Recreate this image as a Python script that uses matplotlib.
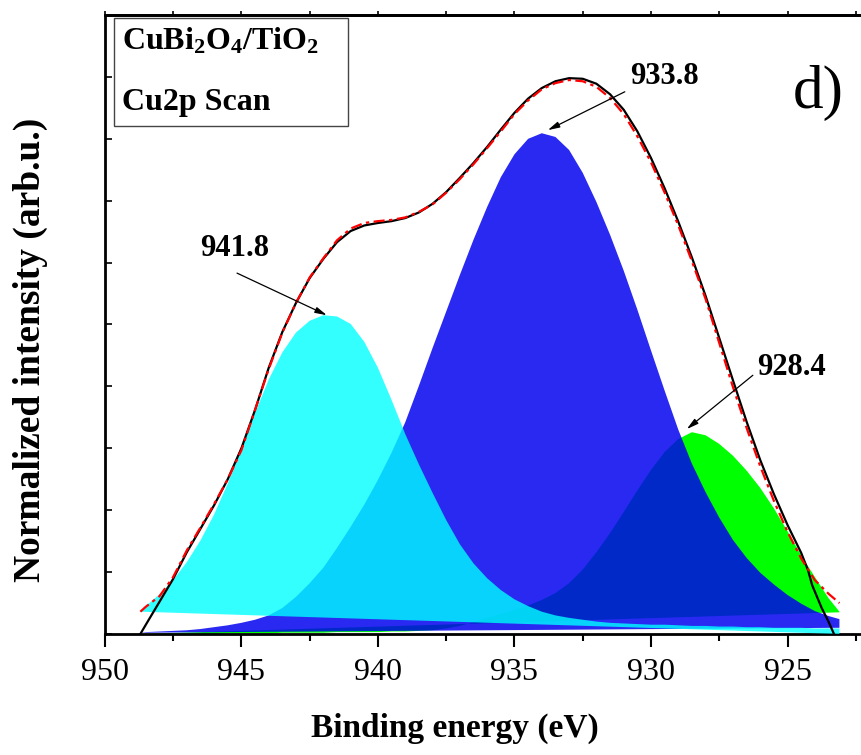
import matplotlib
matplotlib.use('Agg')
import matplotlib.pyplot as plt
from matplotlib.patches import Rectangle
from matplotlib.ticker import MultipleLocator

plt.rcParams['font.family'] = ['Liberation Serif', 'DejaVu Serif']
plt.rcParams['mathtext.fontset'] = 'custom'
plt.rcParams['mathtext.rm'] = 'Liberation Serif:bold'
plt.rcParams['mathtext.it'] = 'Liberation Serif:bold'
plt.rcParams['mathtext.bf'] = 'Liberation Serif:bold'
plt.rcParams['mathtext.default'] = 'rm'

# binding energy grid of the fit (eV)
energy = [948.7, 948.5, 948, 947.5, 947, 946.5, 946, 945.5, 945, 944.5,
          944, 943.5, 943, 942.5, 942, 941.5, 941, 940.5, 940, 939.5,
          939, 938.5, 938, 937.5, 937, 936.5, 936, 935.5, 935, 934.5,
          934, 933.5, 933, 932.5, 932, 931.5, 931, 930.5, 930, 929.5,
          929, 928.5, 928, 927.5, 927, 926.5, 926, 925.5, 925, 924.5,
          924, 923.5, 923.1]
# component curves (normalized intensity)
peak_941 = [0.036, 0.045, 0.064, 0.087, 0.116, 0.151, 0.193, 0.243, 0.299, 0.357,
            0.411, 0.455, 0.487, 0.506, 0.515, 0.513, 0.501, 0.472, 0.430, 0.378,
            0.323, 0.274, 0.228, 0.184, 0.145, 0.114, 0.090, 0.071, 0.056, 0.045,
            0.036, 0.030, 0.026, 0.023, 0.020, 0.018, 0.017, 0.016, 0.015, 0.015,
            0.014, 0.013, 0.013, 0.012, 0.012, 0.011, 0.011, 0.010, 0.010, 0.010,
            0.009, 0.009, 0.009]
peak_933 = [0.002, 0.003, 0.004, 0.005, 0.006, 0.008, 0.011, 0.014, 0.018, 0.023,
            0.030, 0.042, 0.060, 0.082, 0.107, 0.139, 0.173, 0.209, 0.249, 0.293,
            0.342, 0.401, 0.462, 0.521, 0.580, 0.637, 0.690, 0.738, 0.775, 0.800,
            0.809, 0.803, 0.782, 0.745, 0.698, 0.645, 0.587, 0.524, 0.458, 0.393,
            0.330, 0.275, 0.229, 0.188, 0.152, 0.123, 0.099, 0.080, 0.063, 0.049,
            0.037, 0.029, 0.024]
peak_928 = [0.0, 0.0, 0.0, 0.0, 0.0, 0.0, 0.0, 0.001, 0.001, 0.001,
            0.001, 0.002, 0.002, 0.002, 0.002, 0.003, 0.003, 0.003, 0.003, 0.004,
            0.004, 0.005, 0.006, 0.009, 0.013, 0.019, 0.026, 0.032, 0.039, 0.046,
            0.055, 0.066, 0.082, 0.104, 0.132, 0.163, 0.197, 0.232, 0.265, 0.294,
            0.315, 0.326, 0.321, 0.307, 0.288, 0.264, 0.236, 0.203, 0.166, 0.127,
            0.092, 0.058, 0.036]
# cumulative fit
fit_sum = [0.036, 0.044, 0.061, 0.092, 0.135, 0.172, 0.210, 0.250, 0.297, 0.362,
           0.428, 0.487, 0.535, 0.576, 0.607, 0.636, 0.655, 0.664, 0.667, 0.669,
           0.673, 0.682, 0.694, 0.713, 0.735, 0.759, 0.785, 0.812, 0.840, 0.862,
           0.880, 0.890, 0.895, 0.893, 0.884, 0.866, 0.840, 0.804, 0.762, 0.713,
           0.660, 0.602, 0.541, 0.470, 0.399, 0.333, 0.271, 0.215, 0.165, 0.122,
           0.087, 0.065, 0.050]
# linear backgrounds of each component (values at 948.7 and 923.1 eV)
base_ends = [948.7, 923.1]
base_941 = [0.036, 0.0]
base_933 = [0.002, 0.010]
base_928 = [0.0, 0.035]

# measured spectrum
energy_exp = [948.7, 948.5, 948, 947.5, 947, 946.5, 946, 945.5, 945, 944.5,
              944, 943.5, 943, 942.5, 942, 941.5, 941, 940.5, 940, 939.5,
              939, 938.5, 938, 937.5, 937, 936.5, 936, 935.5, 935, 934.5,
              934, 933.5, 933, 932.5, 932, 931.5, 931, 930.5, 930, 929.5,
              929, 928.5, 928, 927.5, 927, 926.5, 926, 925.5, 925, 924.5,
              924.25, 924.1, 923.75, 923.5, 923.3]
intensity_exp = [0.0, 0.015, 0.052, 0.089, 0.132, 0.170, 0.208, 0.250, 0.300, 0.362,
                 0.430, 0.488, 0.535, 0.575, 0.606, 0.633, 0.651, 0.660, 0.664, 0.667,
                 0.672, 0.681, 0.695, 0.714, 0.737, 0.761, 0.787, 0.815, 0.842, 0.865,
                 0.882, 0.893, 0.898, 0.897, 0.889, 0.872, 0.847, 0.812, 0.769, 0.720,
                 0.666, 0.608, 0.546, 0.478, 0.410, 0.343, 0.281, 0.226, 0.176, 0.131,
                 0.103, 0.079, 0.042, 0.020, 0.0]

labels = ['941.8', '933.8', '928.4']
xticks = [950, 945, 940, 935, 930, 925]

fig = plt.figure(figsize=(8.61, 7.55), dpi=100)
ax = fig.add_axes([0.1218, 0.1603, 0.8782, 0.8198])


def fill_peak(top, base, color, alpha, z):
    xs = energy + base_ends[::-1]
    ys = top + base[::-1]
    ax.fill(xs, ys, color=color, alpha=alpha, lw=0, zorder=z)


fill_peak(peak_928, base_928, '#00ff00', 1.0, 1)
fill_peak(peak_933, base_933, '#0000f0', 0.84, 2)
fill_peak(peak_941, base_941, '#00ffff', 0.8, 3)

ax.plot(energy_exp, intensity_exp, color='black', lw=1.6, zorder=5)
ax.plot(energy, fit_sum, color='red', lw=1.6,
        linestyle=(0, (5, 2, 1.5, 2)), zorder=6)

arrow = dict(arrowstyle='-|>,head_length=0.7,head_width=0.18', color='black', lw=0.9,
             shrinkA=0, shrinkB=0)
ax.annotate('', xy=(941.87, 0.515), xytext=(945.16, 0.583), arrowprops=arrow, zorder=7)
ax.annotate('', xy=(933.78, 0.814), xytext=(930.96, 0.876), arrowprops=arrow, zorder=7)
ax.annotate('', xy=(928.69, 0.331), xytext=(926.27, 0.418), arrowprops=arrow, zorder=7)
ax.text(945.24, 0.622, labels[0], ha='center', va='center', fontsize=22, fontweight='bold')
ax.text(929.49, 0.900, labels[1], ha='center', va='center', fontsize=22, fontweight='bold')
ax.text(924.84, 0.431, labels[2], ha='center', va='center', fontsize=22, fontweight='bold')

ax.text(924.8, 0.85, 'd)', ha='left', va='baseline', fontsize=44)

# sample box
ax.add_patch(Rectangle((0.012, 0.8207), 0.3095, 0.1743, transform=ax.transAxes,
                       fill=False, edgecolor='#444444', lw=1.0, zorder=8))
ax.text(0.0225, 0.945, r'CuBi$_2$O$_4$/TiO$_2$', transform=ax.transAxes,
        ha='left', va='baseline', fontsize=23, fontweight='bold', zorder=9)
ax.text(0.0225, 0.8465, 'Cu2p Scan', transform=ax.transAxes,
        ha='left', va='baseline', fontsize=23, fontweight='bold', zorder=9)

ax.set_xlim(950, 922.31)
ax.set_ylim(0, 1)
ax.set_xticks(xticks)
ax.xaxis.set_minor_locator(MultipleLocator(2.5))
ax.yaxis.set_major_locator(MultipleLocator(0.1))
ax.set_yticklabels([])
ax.tick_params(axis='x', which='major', direction='out', length=9, width=1.5,
               labelsize=23, pad=8)
ax.tick_params(axis='x', which='minor', direction='out', length=5, width=1.5)
ax.tick_params(axis='y', which='major', direction='in', length=5, width=1.2, right=False)
for s in ['left', 'bottom', 'top']:
    ax.spines[s].set_linewidth(2)
ax.spines['right'].set_visible(False)

# short marks on the top frame
top = ax.secondary_xaxis('top')
top.set_xticks(xticks)
top.xaxis.set_minor_locator(MultipleLocator(2.5))
top.tick_params(which='both', direction='out', length=3, width=1.2, labeltop=False)
top.spines['top'].set_linewidth(2)

fig.text(0.5285, 0.024, 'Binding energy (eV)', ha='center', va='baseline',
         fontsize=24, fontweight='bold')
fig.text(0.035, 0.537, 'Normalized intensity (arb.u.)', ha='center', va='center',
         rotation=90, fontsize=27, fontweight='bold')

fig.savefig('out.png', dpi=100)
